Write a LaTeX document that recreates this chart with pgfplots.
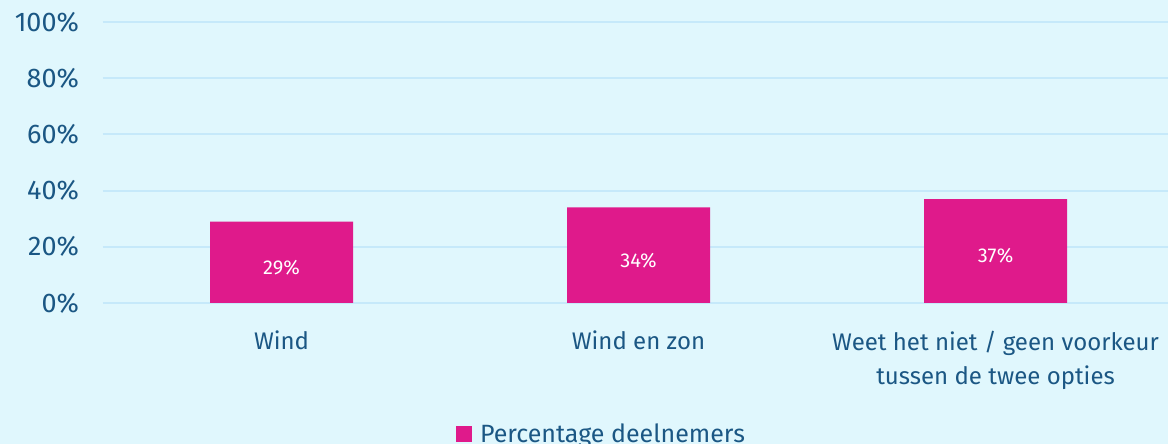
\documentclass[border=0pt]{standalone}
\usepackage{pgfplots}
\pgfplotsset{compat=1.18}
\usepackage{fontspec}
\setmainfont{Fira Sans}
\definecolor{bg}{HTML}{E0F7FD}
\definecolor{gridc}{HTML}{C6E9FA}
\definecolor{txt}{HTML}{1B5784}
\definecolor{barc}{HTML}{DF1A8B}
\begin{document}
\begin{tikzpicture}
\path[use as bounding box, fill=bg] (-51.5pt,-70.5pt) rectangle (532.5pt,151.5pt);
\begin{axis}[
    at={(0,0)}, anchor=south west,
    scale only axis,
    width=532.5pt, height=140.5pt,
    xmin=-0.5, xmax=2.483,
    ymin=0, ymax=100,
    ybar, bar width=71.5pt,
    axis line style={draw=none},
    major tick length=0pt,
    ymajorgrids, grid style={gridc, line width=1pt},
    ytick={0,20,...,100},
    yticklabel={\pgfmathprintnumber{\tick}\%},
    /pgf/number format/assume math mode=true,
    xtick=data,
    xticklabels={Wind, Wind en zon, {Weet het niet / geen voorkeur\\tussen de twee opties}},
    xticklabel style={align=center, font=\fontsize{12}{17}\selectfont, text=txt, yshift=-10.5pt},
    yticklabel style={font=\fontsize{13.5}{15}\selectfont, text=txt, xshift=-8.5pt},
    nodes near coords={\pgfmathprintnumber{\pgfplotspointmeta}\%},
    visualization depends on={y \as \rawy},
    every node near coord/.append style={anchor=center, text=white,
        font=\fontsize{10}{12}\selectfont, yshift={-0.5*\rawy*1.405pt-2.5pt}},
    legend style={draw=none, fill=none, at={(0.469,-0.40)}, anchor=north,
        font=\fontsize{12.5}{14}\selectfont, text=txt},
    legend image code/.code={\fill[barc] (0pt,-3.5pt) rectangle (8pt,4.5pt);},
    legend style={/tikz/every even column/.append style={column sep=0pt}},
    legend cell align=left,
]
\addplot[fill=barc, draw=none] coordinates {(0,29) (1,34) (2,37)};
\addlegendentry{\hspace{2pt}Percentage deelnemers}
\end{axis}
\end{tikzpicture}
\end{document}
